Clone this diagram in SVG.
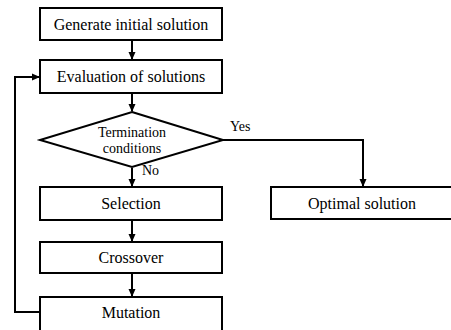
<svg xmlns="http://www.w3.org/2000/svg" width="451" height="330" viewBox="0 0 451 330">
<defs>
<marker id="ah" markerWidth="8" markerHeight="8" refX="7" refY="4" orient="auto" markerUnits="userSpaceOnUse">
<path d="M0,0.5 L8,4 L0,7.5 Z" fill="#000"/>
</marker>
<style>
.box{fill:#fff;stroke:#000;stroke-width:2}
.c{fill:none;stroke:#000;stroke-width:2}
</style>
</defs>
<rect width="451" height="330" fill="#fff"/>
<g id="connectors">
<line class="c" x1="132" y1="41" x2="132" y2="59" marker-end="url(#ah)"/>
<line class="c" x1="132" y1="94" x2="132" y2="111" marker-end="url(#ah)"/>
<line class="c" x1="132" y1="168" x2="132" y2="186" marker-end="url(#ah)"/>
<line class="c" x1="132" y1="221" x2="132" y2="241" marker-end="url(#ah)"/>
<line class="c" x1="132" y1="274" x2="132" y2="296" marker-end="url(#ah)"/>
<polyline class="c" points="223,140 363,140 363,186" marker-end="url(#ah)"/>
<polyline class="c" points="40,312 15,312 15,77 39,77" marker-end="url(#ah)"/>
<g font-family="Liberation Serif, DejaVu Serif, serif" font-size="14" fill="#000">
<text x="230" y="131">Yes</text>
<text x="142" y="175">No</text>
</g>
</g>
<g font-family="Liberation Serif, DejaVu Serif, serif" font-size="16" fill="#000" text-anchor="middle">
<g id="generate">
<rect class="box" x="40" y="8" width="182" height="32"/>
<text x="131" y="30">Generate initial solution</text>
</g>
<g id="evaluation">
<rect class="box" x="40" y="60" width="182" height="33"/>
<text x="131" y="82">Evaluation of solutions</text>
</g>
<g id="termination">
<polygon class="box" points="132,112 223,140 132,167 40,140"/>
<text x="132" y="137" font-size="14">Termination</text>
<text x="132" y="153" font-size="14">conditions</text>
</g>
<g id="selection">
<rect class="box" x="40" y="187" width="182" height="33"/>
<text x="131" y="209">Selection</text>
</g>
<g id="optimal">
<rect class="box" x="271" y="187" width="190" height="32"/>
<text x="362" y="209">Optimal solution</text>
</g>
<g id="crossover">
<rect class="box" x="40" y="242" width="182" height="31"/>
<text x="131" y="263">Crossover</text>
</g>
<g id="mutation">
<rect class="box" x="40" y="297" width="182" height="40"/>
<text x="131" y="318">Mutation</text>
</g>
</g>
</svg>
